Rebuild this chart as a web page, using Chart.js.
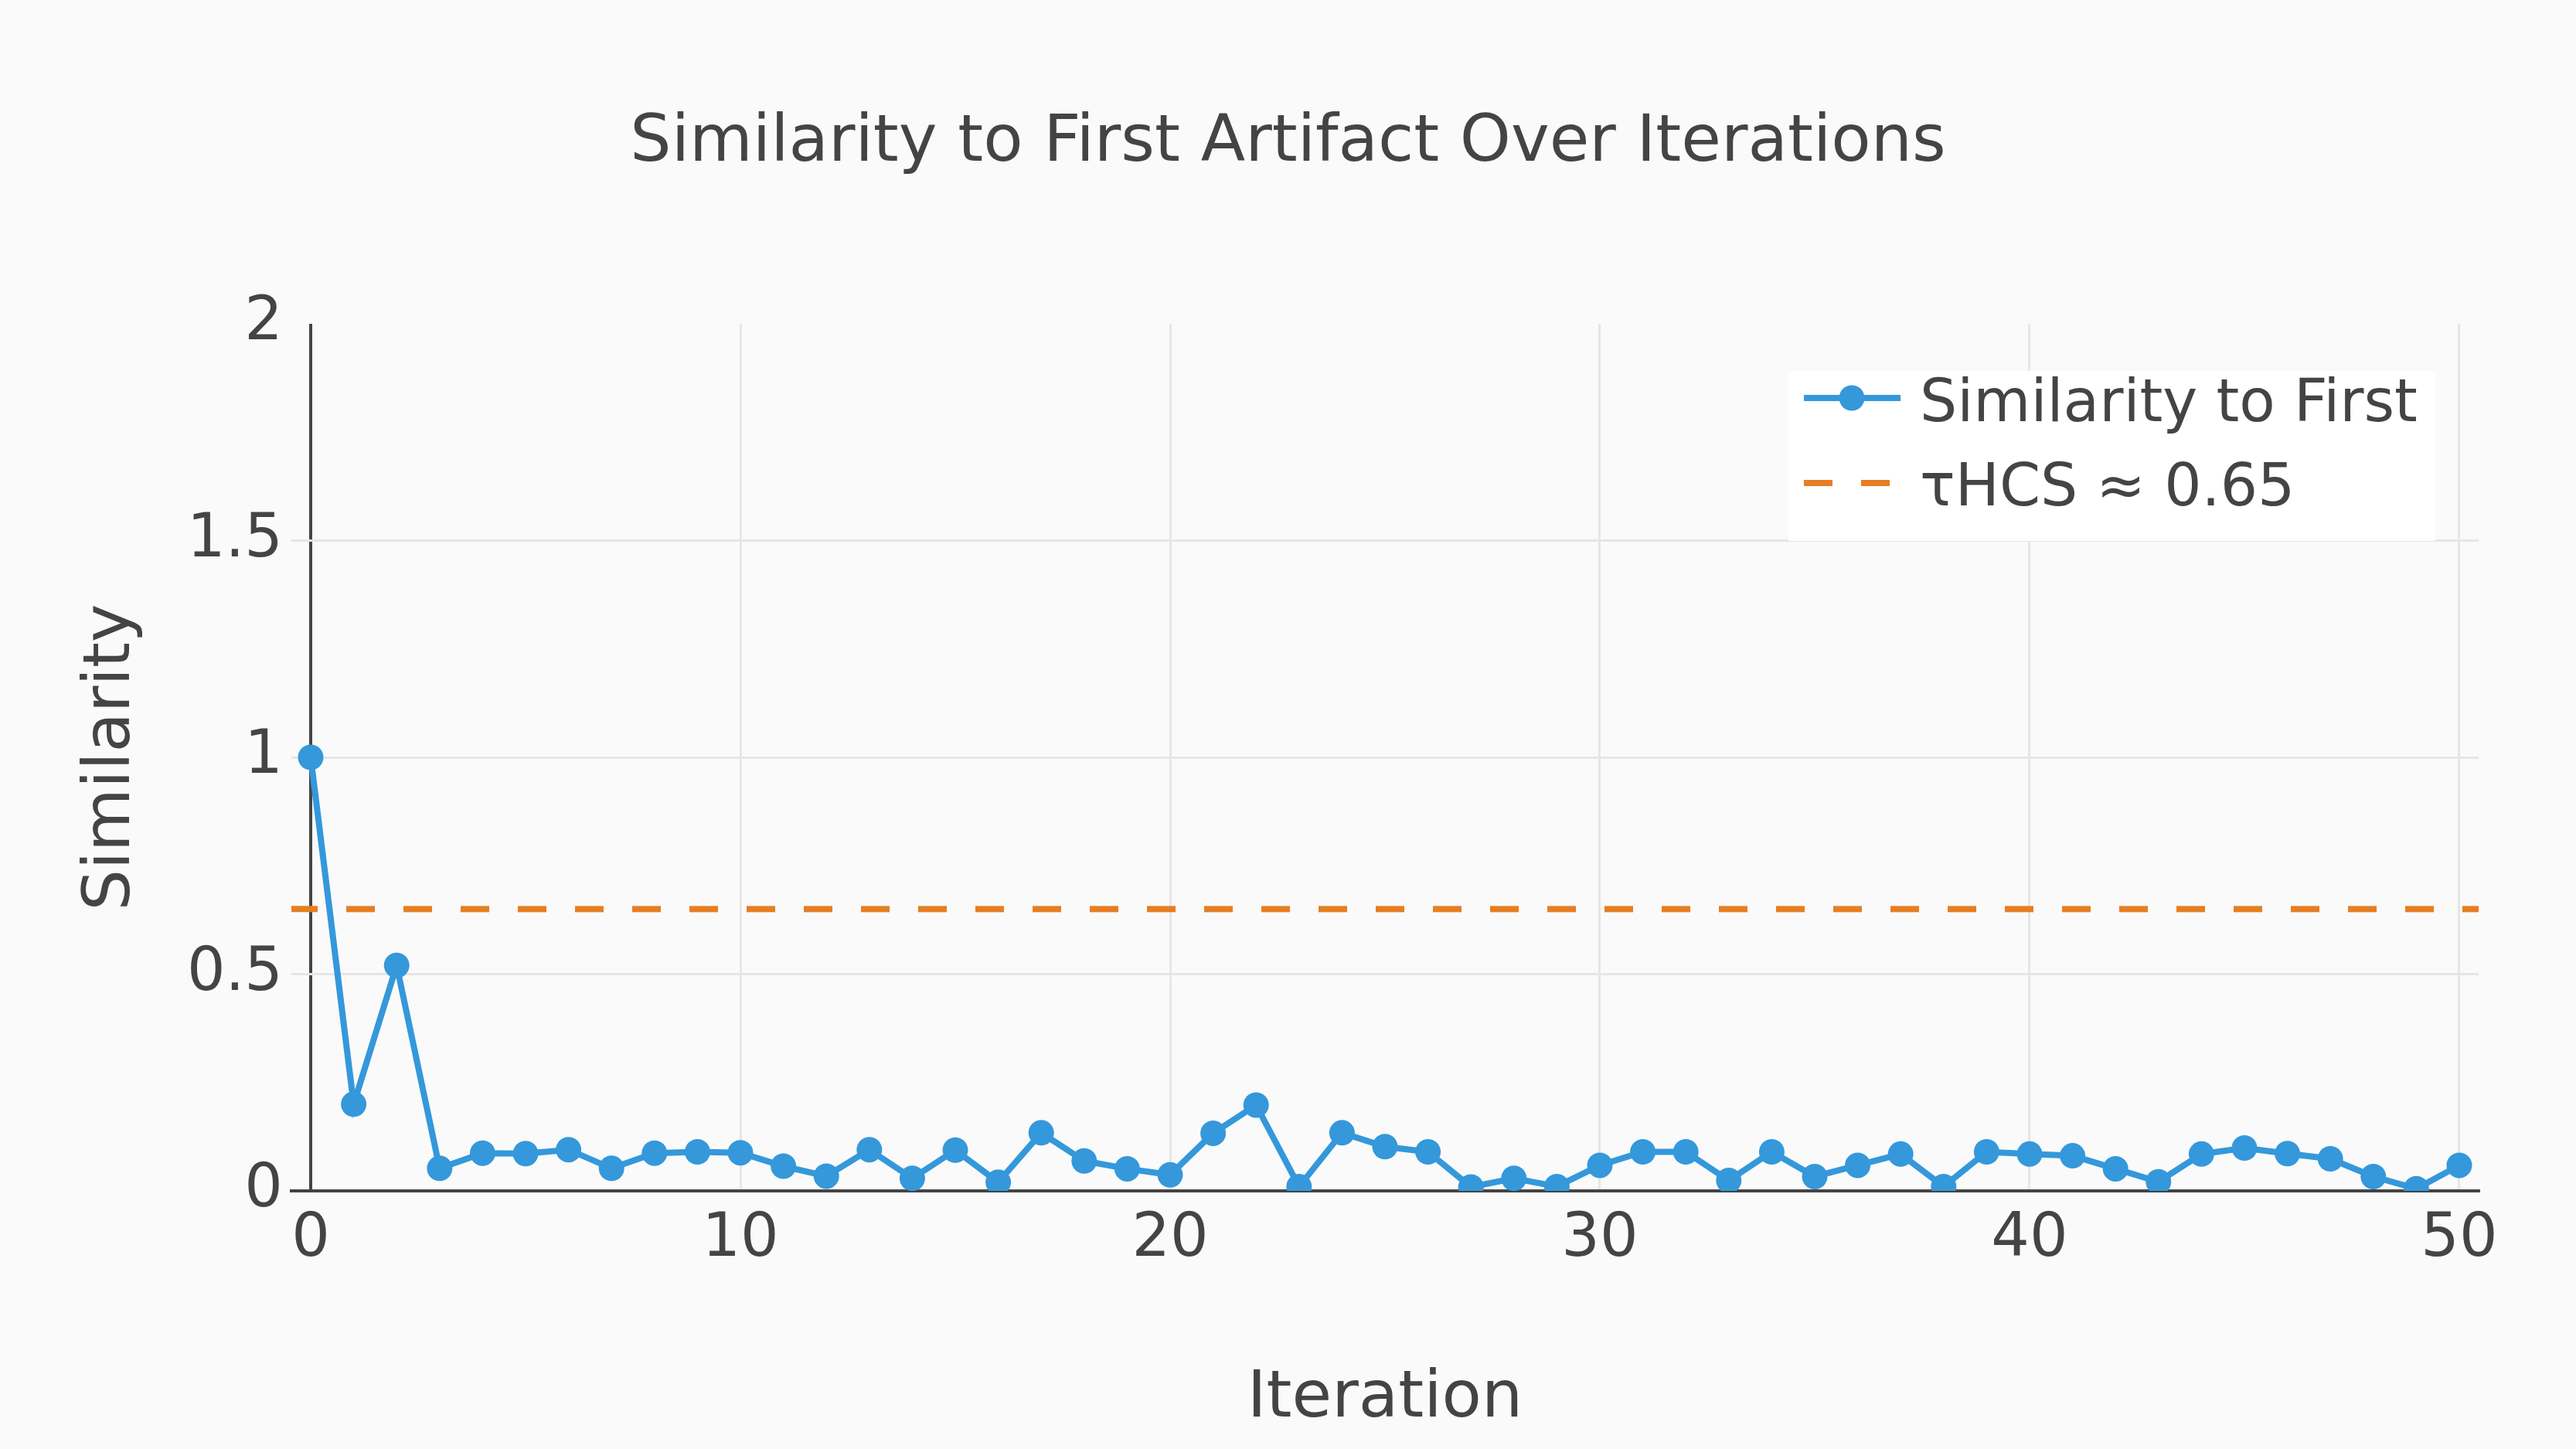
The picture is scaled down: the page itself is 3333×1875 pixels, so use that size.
<!DOCTYPE html>
<html>
<head>
<meta charset="utf-8">
<title>Similarity to First Artifact Over Iterations</title>
<script src="https://cdn.jsdelivr.net/npm/chart.js@4.4.1/dist/chart.umd.min.js"></script>
<style>
  html, body { margin: 0; padding: 0; background: #fafafa; }
  canvas { display: block; }
</style>
</head>
<body>
<canvas id="simChart" width="3333" height="1875"></canvas>
<script>
// data
const iterations = [0, 1, 2, 3, 4, 5, 6, 7, 8, 9, 10, 11, 12, 13, 14, 15, 16, 17, 18, 19, 20,
  21, 22, 23, 24, 25, 26, 27, 28, 29, 30, 31, 32, 33, 34, 35, 36, 37, 38, 39, 40,
  41, 42, 43, 44, 45, 46, 47, 48, 49, 50];
const similarity = [1.0, 0.2, 0.52, 0.052, 0.087, 0.086, 0.095, 0.052, 0.087, 0.09, 0.088,
  0.057, 0.034, 0.095, 0.029, 0.094, 0.02, 0.134, 0.069, 0.051, 0.037,
  0.133, 0.198, 0.01, 0.134, 0.102, 0.09, 0.009, 0.029, 0.01, 0.059,
  0.09, 0.09, 0.024, 0.09, 0.033, 0.059, 0.085, 0.01, 0.09, 0.085,
  0.081, 0.051, 0.021, 0.085, 0.099, 0.086, 0.074, 0.033, 0.005, 0.059];
const threshold = 0.65;
const xTicks = [0, 10, 20, 30, 40, 50];
const yTicks = [0, 0.5, 1, 1.5, 2];
const seriesLabel = 'Similarity to First';
const thresholdLabel = 'τHCS ≈ 0.65';

const xMin = -0.45, xMax = 50.45;
const textColor = '#444';
const gridColor = '#e6e6e6';
const font = 'DejaVu Sans';

Chart.defaults.font.family = font;
Chart.defaults.color = textColor;

// title, axis titles and legend drawn by hand
const extras = {
  id: 'extras',
  beforeDraw(chart) {
    const ctx = chart.ctx;
    ctx.save();
    ctx.fillStyle = '#fafafa';
    ctx.fillRect(0, 0, chart.width, chart.height);
    ctx.restore();
  },
  afterDraw(chart) {
    const ctx = chart.ctx;
    const area = chart.chartArea;
    ctx.save();
    ctx.fillStyle = textColor;
    ctx.textBaseline = 'alphabetic';

    ctx.font = '84px "' + font + '"';
    ctx.textAlign = 'center';
    ctx.fillText('Similarity to First Artifact Over Iterations', chart.width / 2, 208);
    ctx.fillText('Iteration', (area.left + area.right) / 2, 1833);

    ctx.save();
    ctx.translate(167, (area.top + area.bottom) / 2);
    ctx.rotate(-Math.PI / 2);
    ctx.fillText('Similarity', 0, 0);
    ctx.restore();

    // legend
    const ds = chart.data.datasets;
    ctx.fillStyle = '#ffffff';
    ctx.fillRect(2314, 480, 837, 220);

    ctx.lineWidth = 8;
    ctx.strokeStyle = ds[0].borderColor;
    ctx.beginPath();
    ctx.moveTo(2334, 515);
    ctx.lineTo(2459, 515);
    ctx.stroke();
    ctx.fillStyle = ds[0].pointBackgroundColor;
    ctx.beginPath();
    ctx.arc(2396, 515, 16.5, 0, Math.PI * 2);
    ctx.fill();

    ctx.strokeStyle = ds[1].borderColor;
    ctx.setLineDash([37, 37]);
    ctx.beginPath();
    ctx.moveTo(2334, 625);
    ctx.lineTo(2450, 625);
    ctx.stroke();
    ctx.setLineDash([]);

    ctx.fillStyle = textColor;
    ctx.font = '76px "' + font + '"';
    ctx.textAlign = 'left';
    ctx.fillText(ds[0].label, 2484, 545);
    ctx.fillText(ds[1].label, 2484, 654);
    ctx.restore();
  }
};

const ctx = document.getElementById('simChart').getContext('2d');
new Chart(ctx, {
  type: 'line',
  data: {
    datasets: [{
      label: seriesLabel,
      data: iterations.map((x, i) => ({ x: x, y: similarity[i] })),
      borderColor: '#3498db',
      backgroundColor: '#3498db',
      pointBackgroundColor: '#3498db',
      pointBorderWidth: 0,
      pointRadius: 16.5,
      borderWidth: 8,
      tension: 0,
      clip: 0
    }, {
      label: thresholdLabel,
      data: [{ x: xMin, y: threshold }, { x: xMax, y: threshold }],
      borderColor: '#e67e22',
      borderWidth: 8,
      borderDash: [37, 37],
      borderDashOffset: 3,
      pointRadius: 0,
      clip: 0
    }]
  },
  options: {
    responsive: false,
    devicePixelRatio: 1,
    animation: false,
    events: [],
    layout: { padding: { top: 419, right: 126, bottom: 0, left: 0 } },
    plugins: {
      legend: { display: false },
      title: { display: false },
      tooltip: { enabled: false }
    },
    scales: {
      x: {
        type: 'linear',
        min: xMin,
        max: xMax,
        afterBuildTicks: scale => { scale.ticks = xTicks.map(v => ({ value: v })); },
        afterFit: scale => { scale.height = 334; },
        ticks: {
          font: { size: 78 },
          color: textColor,
          padding: 17,
          maxRotation: 0,
          callback: v => String(v)
        },
        grid: {
          drawTicks: false,
          color: c => (c.tick && c.tick.value === 0 ? '#444' : gridColor),
          lineWidth: c => (c.tick && c.tick.value === 0 ? 4 : 3)
        },
        border: { display: true, color: '#444', width: 4 }
      },
      y: {
        min: 0,
        max: 2,
        afterBuildTicks: scale => { scale.ticks = yTicks.map(v => ({ value: v })); },
        afterFit: scale => { scale.width = 377; },
        ticks: {
          font: { size: 78 },
          color: textColor,
          padding: 11,
          callback: v => String(v)
        },
        grid: {
          drawTicks: false,
          color: c => (c.tick && (c.tick.value === 0 || c.tick.value === 2) ? 'rgba(0,0,0,0)' : gridColor),
          lineWidth: 3
        },
        border: { display: false }
      }
    }
  },
  plugins: [extras]
});
</script>
</body>
</html>
